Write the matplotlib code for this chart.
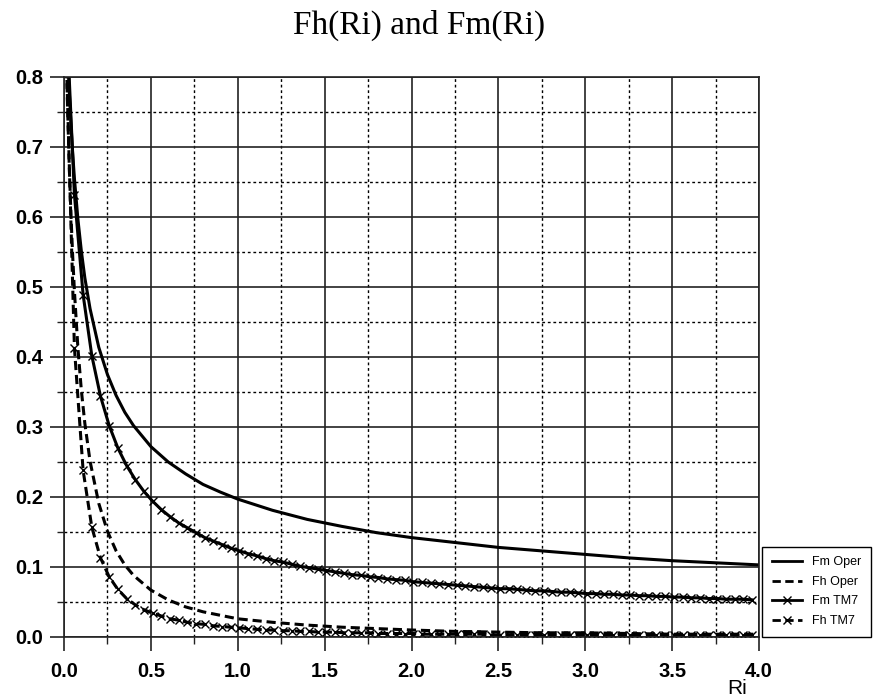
import numpy as np
import matplotlib
matplotlib.use('Agg')
import matplotlib.pyplot as plt
from matplotlib.ticker import MultipleLocator, FormatStrFormatter

# values
ri_oper = [0.0, 0.01, 0.02, 0.03, 0.04, 0.05, 0.06, 0.08, 0.1, 0.12, 0.15, 0.2, 0.25,
           0.3, 0.35, 0.4, 0.5, 0.6, 0.7, 0.8, 0.9, 1.0, 1.2, 1.4, 1.6, 1.8, 2.0,
           2.25, 2.5, 2.75, 3.0, 3.25, 3.5, 3.75, 4.0]
fm_oper = [1.000, 0.911, 0.840, 0.781, 0.733, 0.691, 0.655, 0.597, 0.551, 0.513, 0.469,
           0.414, 0.375, 0.345, 0.321, 0.302, 0.272, 0.250, 0.233, 0.218, 0.207, 0.197,
           0.181, 0.168, 0.158, 0.149, 0.142, 0.135, 0.128, 0.123, 0.118, 0.113, 0.109,
           0.106, 0.103]
fh_oper = [1.000, 0.867, 0.761, 0.675, 0.603, 0.544, 0.494, 0.413, 0.352, 0.305, 0.251,
           0.191, 0.151, 0.123, 0.103, 0.088, 0.067, 0.053, 0.043, 0.036, 0.031, 0.026,
           0.021, 0.017, 0.014, 0.012, 0.010, 0.008, 0.007, 0.006, 0.006, 0.005, 0.004,
           0.004, 0.004]

# TM7 curves, one point every 0.05 starting at 0.01
fm_tm7 = [0.910, 0.632, 0.489, 0.402, 0.344, 0.302, 0.270, 0.245, 0.225, 0.208,
          0.194, 0.182, 0.172, 0.163, 0.156, 0.149, 0.142, 0.137, 0.132, 0.127,
          0.123, 0.119, 0.116, 0.112, 0.109, 0.107, 0.104, 0.101, 0.099, 0.097,
          0.095, 0.093, 0.091, 0.089, 0.088, 0.086, 0.085, 0.083, 0.082, 0.081,
          0.079, 0.078, 0.077, 0.076, 0.075, 0.074, 0.073, 0.072, 0.071, 0.070,
          0.069, 0.069, 0.068, 0.067, 0.066, 0.066, 0.065, 0.064, 0.064, 0.063,
          0.062, 0.062, 0.061, 0.061, 0.060, 0.060, 0.059, 0.059, 0.058, 0.058,
          0.057, 0.057, 0.056, 0.056, 0.055, 0.055, 0.054, 0.054, 0.054, 0.053]
fh_tm7 = [0.856, 0.413, 0.238, 0.157, 0.113, 0.086, 0.068, 0.055, 0.046, 0.039,
          0.034, 0.030, 0.026, 0.024, 0.021, 0.019, 0.018, 0.016, 0.015, 0.014,
          0.013, 0.012, 0.011, 0.010, 0.010, 0.009, 0.009, 0.008, 0.008, 0.007,
          0.007, 0.007, 0.006, 0.006, 0.006, 0.006, 0.005, 0.005, 0.005, 0.005,
          0.005, 0.004, 0.004, 0.004, 0.004, 0.004, 0.004, 0.004, 0.004, 0.003,
          0.003, 0.003, 0.003, 0.003, 0.003, 0.003, 0.003, 0.003, 0.003, 0.003,
          0.003, 0.003, 0.003, 0.003, 0.003, 0.003, 0.003, 0.003, 0.003, 0.003,
          0.003, 0.003, 0.003, 0.003, 0.003, 0.003, 0.003, 0.003, 0.003, 0.003]
ri_tm7 = np.round(0.01 + 0.05 * np.arange(len(fm_tm7)), 2)

labels = ['Fm Oper', 'Fh Oper', 'Fm TM7', 'Fh TM7']

fig = plt.figure(figsize=(8.76, 6.97), dpi=100)
ax = fig.add_axes([64/876, 60/697, 695/876, 560/697])

lw = 2.2
dash = (0, (3, 1.6))
ax.plot(ri_oper, fm_oper, color='black', lw=lw, label=labels[0])
ax.plot(ri_oper, fh_oper, color='black', lw=lw, ls=dash, label=labels[1])
ax.plot(ri_tm7, fm_tm7, color='black', lw=lw, marker='x', ms=6, mew=1,
        label=labels[2])
ax.plot(ri_tm7, fh_tm7, color='black', lw=lw, ls=dash, marker='x', ms=6, mew=1,
        label=labels[3])

ax.set_xlim(0, 4)
ax.set_ylim(0, 0.8)
ax.xaxis.set_major_locator(MultipleLocator(0.5))
ax.xaxis.set_minor_locator(MultipleLocator(0.25))
ax.yaxis.set_major_locator(MultipleLocator(0.1))
ax.yaxis.set_minor_locator(MultipleLocator(0.05))
ax.xaxis.set_major_formatter(FormatStrFormatter('%.1f'))
ax.yaxis.set_major_formatter(FormatStrFormatter('%.1f'))

gcol = '#222222'
ax.grid(which='major', color=gcol, lw=1.2, ls='-')
ax.grid(which='minor', color='black', lw=1.0, ls=(0, (2, 2)))
ax.set_axisbelow(True)
ax.tick_params(which='major', direction='out', length=10, width=1.2, color=gcol)
ax.tick_params(which='minor', direction='out', length=5, width=1.0, color=gcol)
ax.tick_params(axis='x', which='major', pad=8)
ax.tick_params(axis='y', which='major', pad=5)
for s in ax.spines.values():
    s.set_color(gcol)
    s.set_linewidth(1.2)

for t in ax.get_xticklabels() + ax.get_yticklabels():
    t.set_fontfamily('Liberation Sans')
    t.set_fontweight('bold')
    t.set_fontsize(14.5)

fig.text(419/876, 1 - 25/697, 'Fh(Ri) and Fm(Ri)', family='Liberation Serif',
         fontsize=24, ha='center', va='center')
fig.text(737/876, 1 - 688/697, 'Ri', family='Liberation Sans', fontsize=15,
         ha='center', va='center')

leg = ax.legend(loc='lower left', bbox_to_anchor=(762/876, 60/697),
                bbox_transform=fig.transFigure, borderaxespad=0, fancybox=False,
                framealpha=1, edgecolor='black', numpoints=1, handlelength=2.4,
                handletextpad=0.8, labelspacing=0.6, borderpad=0.8,
                prop={'family': 'Liberation Sans', 'size': 9})
leg.get_frame().set_linewidth(1.0)
for h in leg.get_lines():
    h.set_linewidth(2.0)

fig.savefig('out.png', dpi=100)
